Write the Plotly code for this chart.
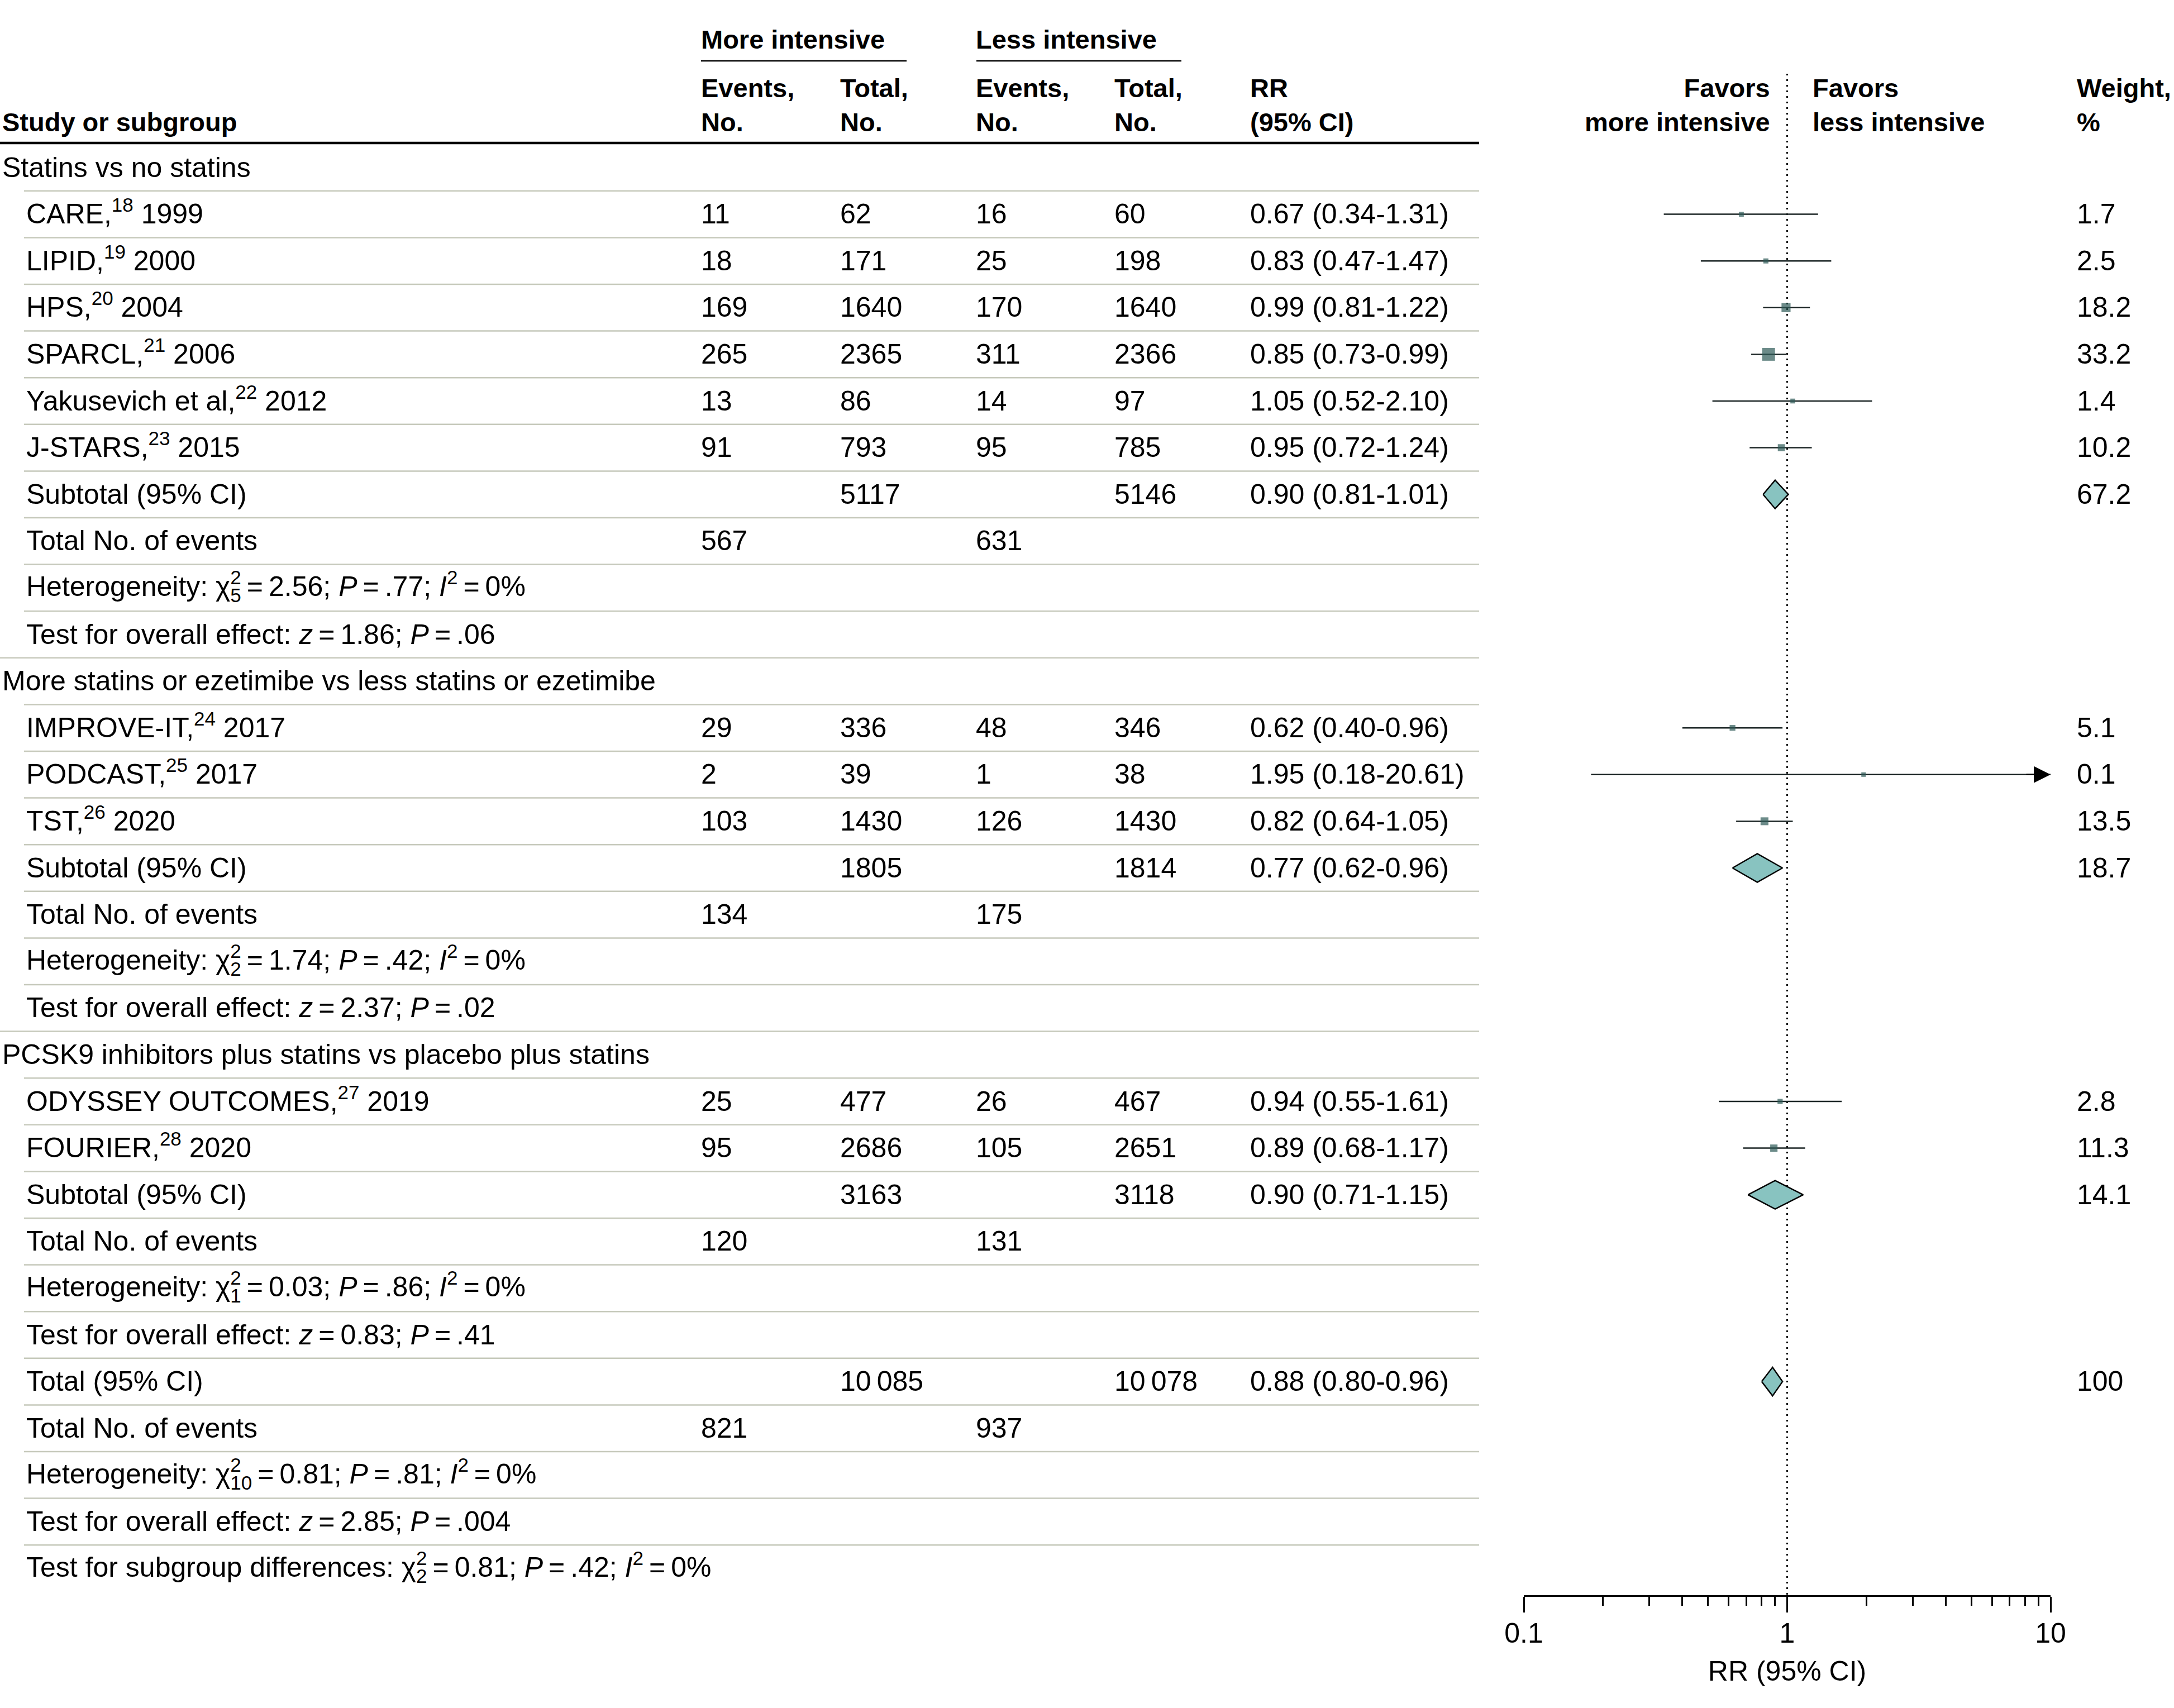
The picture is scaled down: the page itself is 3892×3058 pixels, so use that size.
import math
import plotly.graph_objects as go

W, H = 3892, 3058
FONT = "Liberation Sans"
FS = 50
HFS = 47
T = "\u2009"  # thin space

# ---------------- data ----------------
group_names = ["Statins vs no statins",
               "More statins or ezetimibe vs less statins or ezetimibe",
               "PCSK9 inhibitors plus statins vs placebo plus statins"]
group_sizes = [6, 3, 2]

study_names = ["CARE", "LIPID", "HPS", "SPARCL", "Yakusevich et al", "J-STARS",
               "IMPROVE-IT", "PODCAST", "TST", "ODYSSEY OUTCOMES", "FOURIER"]
study_refs = [18, 19, 20, 21, 22, 23, 24, 25, 26, 27, 28]
study_years = [1999, 2000, 2004, 2006, 2012, 2015, 2017, 2017, 2020, 2019, 2020]
events_more = [11, 18, 169, 265, 13, 91, 29, 2, 103, 25, 95]
total_more = [62, 171, 1640, 2365, 86, 793, 336, 39, 1430, 477, 2686]
events_less = [16, 25, 170, 311, 14, 95, 48, 1, 126, 26, 105]
total_less = [60, 198, 1640, 2366, 97, 785, 346, 38, 1430, 467, 2651]
rr = [0.67, 0.83, 0.99, 0.85, 1.05, 0.95, 0.62, 1.95, 0.82, 0.94, 0.89]
rr_lo = [0.34, 0.47, 0.81, 0.73, 0.52, 0.72, 0.40, 0.18, 0.64, 0.55, 0.68]
rr_hi = [1.31, 1.47, 1.22, 0.99, 2.10, 1.24, 0.96, 20.61, 1.05, 1.61, 1.17]
weight = [1.7, 2.5, 18.2, 33.2, 1.4, 10.2, 5.1, 0.1, 13.5, 2.8, 11.3]

sub_total_more = [5117, 1805, 3163]
sub_total_less = [5146, 1814, 3118]
sub_rr = [0.90, 0.77, 0.90]
sub_lo = [0.81, 0.62, 0.71]
sub_hi = [1.01, 0.96, 1.15]
sub_weight = [67.2, 18.7, 14.1]
sub_events_more = [567, 134, 120]
sub_events_less = [631, 175, 131]
het_chi2 = ["2.56", "1.74", "0.03"]
het_df = [5, 2, 1]
het_p = [".77", ".42", ".86"]
het_i2 = [0, 0, 0]
eff_z = ["1.86", "2.37", "0.83"]
eff_p = [".06", ".02", ".41"]

overall_total_more = 10085
overall_total_less = 10078
overall_rr = 0.88
overall_lo = 0.80
overall_hi = 0.96
overall_weight = 100
overall_events_more = 821
overall_events_less = 937
overall_chi2 = "0.81"
overall_df = 10
overall_p = ".81"
overall_i2 = 0
overall_z = "2.85"
overall_pz = ".004"
subgroup_chi2 = "0.81"
subgroup_df = 2
subgroup_p = ".42"
subgroup_i2 = 0

axis_ticks = [0.1, 1, 10]
axis_ticktext = ["0.1", "1", "10"]

# ---------------- layout constants ----------------
ROW0 = 300.0
ROWH = 83.6
AX_TOP, AX_BOT = 0.0, 2856.0
X_L, X_R = 2728.0, 3671.0
X_GROUP, X_LABEL = 2, 45
X_EV1, X_TOT1, X_EV2, X_TOT2, X_RR, X_WT = 1253, 1502, 1745, 1993, 2236, 3716
TABLE_R = 2648
BOT_OFF = 29.5
TOP_OFF = -40.0

MARK = "#2d5a57"
CI_COL = "#1c2626"
DIAM = "#88c3c0"
SEP = "#c6c9bb"
INV = "<span style='color:rgba(0,0,0,0)'>"


def rowpx(r):
    return ROW0 + r * ROWH


def y_of_px(p):
    return (p - ROW0) / ROWH


def fmt_int(n):
    s = str(n)
    if n >= 10000:
        s = s[:-3] + T + s[-3:]
    return s


def fmt_rr(r, lo, hi):
    return f"{r:.2f} ({lo:.2f}-{hi:.2f})"


def fmt_w(w):
    return str(int(w)) if float(w).is_integer() else f"{w:.1f}"


def marker_size(w):
    return 8 + 0.45 * w


annotations = []
shapes = []


def add_text(xpx, ycen, s, xanchor="left", mode="bottom", align="left", size=FS):
    if mode == "bottom":
        y, ya = y_of_px(ycen + BOT_OFF), "bottom"
    else:
        y, ya = y_of_px(ycen + TOP_OFF), "top"
    annotations.append(dict(xref="paper", x=xpx / W, yref="y", y=y, text=s,
                            showarrow=False, xanchor=xanchor, yanchor=ya, align=align,
                            font=dict(family=FONT, size=size, color="black")))


def add_stat(ycen, prefix, df, chi, p, i2):
    base = (f"{prefix}χ<sub>{df}</sub>{T}={T}{chi}; <i>P</i>{T}={T}{p}; "
            f"<i>I</i><sup>2</sup>{T}={T}{i2}%")
    over = f"{INV}{prefix}χ</span><sup>2</sup>"
    add_text(X_LABEL, ycen, base, mode="top")
    add_text(X_LABEL, ycen, over, mode="top")


def hline(x0, x1, ypx, color, width):
    shapes.append(dict(type="line", xref="paper", x0=x0 / W, x1=x1 / W, yref="y",
                       y0=y_of_px(ypx), y1=y_of_px(ypx), line=dict(color=color, width=width)))


# ---------------- build rows ----------------
row_kinds = []
study_rows = []
sub_rows = []
r = 0
si = 0
for g, n in enumerate(group_sizes):
    row_kinds.append("header")
    add_text(X_GROUP, rowpx(r), group_names[g])
    r += 1
    for _ in range(n):
        row_kinds.append("study")
        y = rowpx(r)
        add_text(X_LABEL, y, f"{study_names[si]},<sup>{study_refs[si]}</sup> {study_years[si]}")
        add_text(X_EV1, y, fmt_int(events_more[si]))
        add_text(X_TOT1, y, fmt_int(total_more[si]))
        add_text(X_EV2, y, fmt_int(events_less[si]))
        add_text(X_TOT2, y, fmt_int(total_less[si]))
        add_text(X_RR, y, fmt_rr(rr[si], rr_lo[si], rr_hi[si]))
        add_text(X_WT, y, fmt_w(weight[si]))
        study_rows.append(r)
        si += 1
        r += 1
    row_kinds.append("subtotal")
    y = rowpx(r)
    add_text(X_LABEL, y, "Subtotal (95% CI)")
    add_text(X_TOT1, y, fmt_int(sub_total_more[g]))
    add_text(X_TOT2, y, fmt_int(sub_total_less[g]))
    add_text(X_RR, y, fmt_rr(sub_rr[g], sub_lo[g], sub_hi[g]))
    add_text(X_WT, y, fmt_w(sub_weight[g]))
    sub_rows.append(r)
    r += 1
    row_kinds.append("events")
    y = rowpx(r)
    add_text(X_LABEL, y, "Total No. of events")
    add_text(X_EV1, y, fmt_int(sub_events_more[g]))
    add_text(X_EV2, y, fmt_int(sub_events_less[g]))
    r += 1
    row_kinds.append("het")
    add_stat(rowpx(r), "Heterogeneity: ", het_df[g], het_chi2[g], het_p[g], het_i2[g])
    r += 1
    row_kinds.append("test")
    add_text(X_LABEL, rowpx(r),
             f"Test for overall effect: <i>z</i>{T}={T}{eff_z[g]}; <i>P</i>{T}={T}{eff_p[g]}")
    r += 1

# overall
row_kinds.append("total")
y = rowpx(r)
add_text(X_LABEL, y, "Total (95% CI)")
add_text(X_TOT1, y, fmt_int(overall_total_more))
add_text(X_TOT2, y, fmt_int(overall_total_less))
add_text(X_RR, y, fmt_rr(overall_rr, overall_lo, overall_hi))
add_text(X_WT, y, fmt_w(overall_weight))
total_row = r
r += 1
row_kinds.append("events")
y = rowpx(r)
add_text(X_LABEL, y, "Total No. of events")
add_text(X_EV1, y, fmt_int(overall_events_more))
add_text(X_EV2, y, fmt_int(overall_events_less))
r += 1
row_kinds.append("het")
add_stat(rowpx(r), "Heterogeneity: ", overall_df, overall_chi2, overall_p, overall_i2)
r += 1
row_kinds.append("test")
add_text(X_LABEL, rowpx(r),
         f"Test for overall effect: <i>z</i>{T}={T}{overall_z}; <i>P</i>{T}={T}{overall_pz}")
r += 1
row_kinds.append("subdiff")
add_stat(rowpx(r), "Test for subgroup differences: ", subgroup_df, subgroup_chi2,
         subgroup_p, subgroup_i2)
n_rows = r + 1

# separators
for k in range(n_rows - 1):
    x0 = 0 if row_kinds[k + 1] == "header" else 43
    hline(x0, TABLE_R, rowpx(k) + ROWH / 2, SEP, 2.5)

# header
hline(0, TABLE_R, 256, "black", 4.5)
hline(1255, 1623, 109, "black", 2.5)
hline(1748, 2115, 109, "black", 2.5)
add_text(X_EV1, 70, "<b>More intensive</b>", size=HFS)
add_text(X_EV2, 70, "<b>Less intensive</b>", size=HFS)
add_text(X_GROUP, 217, "<b>Study or subgroup</b>", size=HFS)
for xc, a, b in [(X_EV1, "Events,", "No."), (X_TOT1, "Total,", "No."),
                 (X_EV2, "Events,", "No."), (X_TOT2, "Total,", "No."),
                 (X_RR, "RR", "(95% CI)"), (3243, "Favors", "less intensive"),
                 (X_WT, "Weight,", "%")]:
    add_text(xc, 217, f"<b>{a}</b><br><b>{b}</b>", size=HFS)
add_text(3171, 217, "<b>Favors</b><br><b>more intensive</b>", xanchor="right",
         align="right", size=HFS)

# ---------------- forest traces ----------------
fig = go.Figure()

fig.add_trace(go.Scatter(x=[1, 1], y=[y_of_px(132), y_of_px(AX_BOT)], mode="lines",
                         line=dict(color="black", width=3, dash="3px,7px"),
                         hoverinfo="skip", showlegend=False))

fig.add_trace(go.Scatter(
    x=rr, y=study_rows, mode="markers",
    marker=dict(symbol="square", size=[marker_size(w) for w in weight], color=MARK,
                line=dict(width=0)),
    error_x=dict(type="data", symmetric=False,
                 array=[h - v for h, v in zip(rr_hi, rr)],
                 arrayminus=[v - l for v, l in zip(rr, rr_lo)],
                 width=0, thickness=2.5, color=CI_COL),
    hoverinfo="skip", showlegend=False))

DH = 25.5 / ROWH
for rc, v, lo, hi in list(zip(sub_rows, sub_rr, sub_lo, sub_hi)) + \
        [(total_row, overall_rr, overall_lo, overall_hi)]:
    fig.add_trace(go.Scatter(x=[lo, v, hi, v, lo], y=[rc, rc - DH, rc, rc + DH, rc],
                             mode="lines", fill="toself", fillcolor=DIAM,
                             line=dict(color="black", width=2.5),
                             hoverinfo="skip", showlegend=False))

# arrow for CIs exceeding the axis
ax_max = axis_ticks[-1]
for rc, hi in zip(study_rows, rr_hi):
    if hi > ax_max:
        annotations.append(dict(xref="x", yref="y", x=math.log10(ax_max), y=rc, text="",
                                showarrow=True, ax=-45, ay=0, axref="pixel", ayref="pixel",
                                arrowhead=2, arrowsize=2.4, arrowwidth=2.5,
                                arrowcolor="black", standoff=0))

minor_vals = [k * 10 ** e for e in (-1, 0) for k in range(2, 10)]

fig.update_layout(
    width=W, height=H, autosize=False,
    margin=dict(l=0, r=0, t=0, b=0, pad=0),
    paper_bgcolor="white", plot_bgcolor="white",
    font=dict(family=FONT, size=FS, color="black"),
    showlegend=False,
    xaxis=dict(type="log", range=[-1, 1], domain=[X_L / W, X_R / W], anchor="y",
               tickvals=axis_ticks, ticktext=axis_ticktext, ticks="outside",
               ticklen=28, tickwidth=2.5, tickcolor="black", ticklabelstandoff=-6,
               showline=True, linecolor="black", linewidth=2.5,
               showgrid=False, zeroline=False, automargin=False, fixedrange=True,
               tickfont=dict(family=FONT, size=FS, color="black"),
               minor=dict(tickvals=minor_vals, ticks="outside", ticklen=16,
                          tickwidth=2.5, tickcolor="black", showgrid=False),
               title=dict(text="RR (95% CI)", font=dict(family=FONT, size=FS, color="black"),
                          standoff=24)),
    yaxis=dict(domain=[1 - AX_BOT / H, 1], range=[y_of_px(AX_BOT), y_of_px(AX_TOP)],
               visible=False, showgrid=False, zeroline=False, automargin=False,
               fixedrange=True),
    annotations=annotations,
    shapes=shapes,
)

fig.write_html("out.html", config={"displayModeBar": False},
               post_script="document.body.style.margin='0';")
